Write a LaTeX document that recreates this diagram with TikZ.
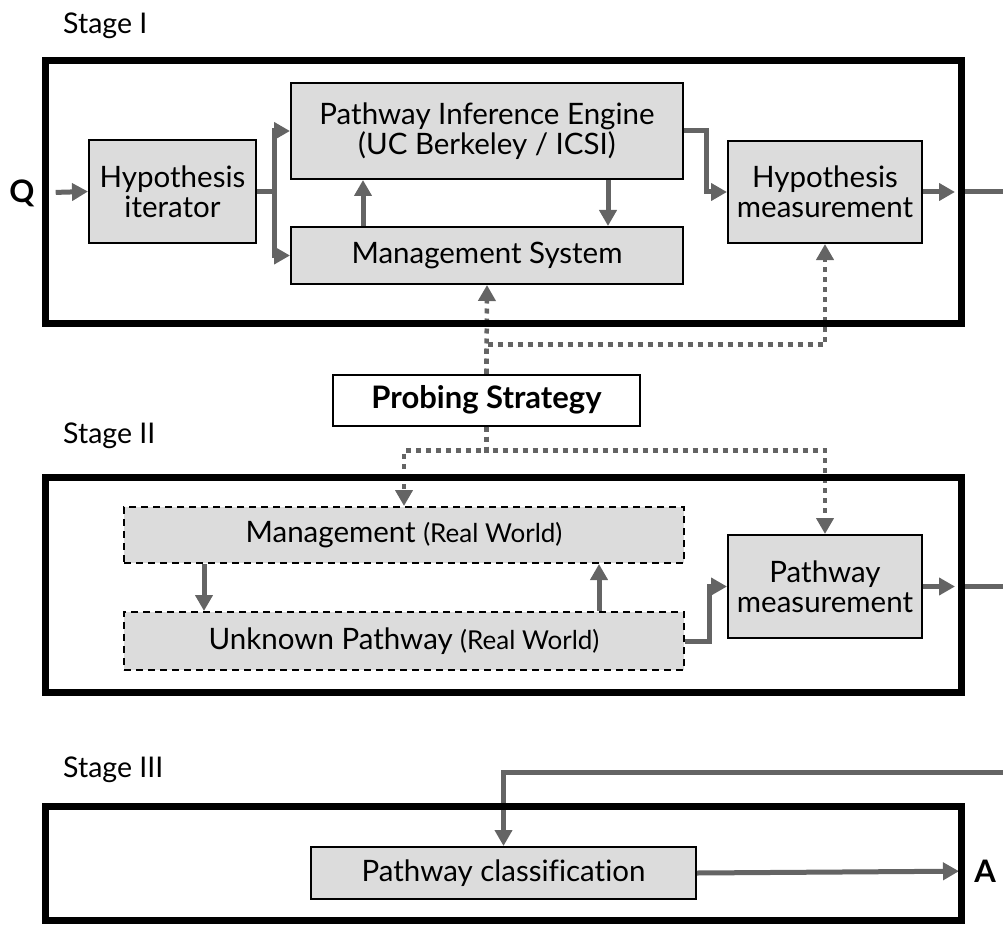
\documentclass[tikz,border=0pt]{standalone}
\usepackage{fontspec}
\setmainfont{Lato}[Ligatures=NoCommon]
\usetikzlibrary{arrows.meta,positioning}
\definecolor{boxgray}{RGB}{220,220,220}
\definecolor{linkgray}{RGB}{100,100,100}
\newcommand\realworld{{\fontsize{26}{28}\selectfont(Real World)}}

\begin{document}
\begin{tikzpicture}[x=1pt,y=-1pt,
  font=\fontsize{29.5}{30}\selectfont,
  block/.style={draw=black,line width=2pt,fill=boxgray,align=center,inner sep=0pt},
  realbox/.style={block,dash pattern=on 7pt off 5pt},
  probebox/.style={block,fill=white,font=\fontsize{31}{32}\selectfont\bfseries},
  stageframe/.style={draw=black,line width=7pt},
  stagelabel/.style={anchor=west,inner sep=0pt,font=\fontsize{28.5}{30}\selectfont},
  endlabel/.style={inner sep=0pt,font=\fontsize{31}{32}\selectfont\bfseries},
  flow/.style={-{Triangle[length=16pt,width=17pt]},draw=linkgray,line width=5pt},
  link/.style={draw=linkgray,line width=5pt},
  probe/.style={-{Triangle[length=16pt,width=17pt]},draw=linkgray,line width=4.5pt,dash pattern=on 5pt off 5pt}
]
\useasboundingbox (0,0) rectangle (1003,925);

% stage labels
\node[stagelabel] (lab1) at (63,26) {Stage I};
\node[stagelabel] (lab2) at (63,436) {Stage II};
\node[stagelabel] (lab3) at (63,770) {Stage III};

% stage I
\node[block,minimum width=167pt,minimum height=103pt] (iter) at (172.5,191.5) {Hypothesis\\iterator};
\node[block,minimum width=392pt,minimum height=96pt] (pie) at (487,131) {Pathway Inference Engine\\(UC Berkeley / ICSI)};
\node[block,minimum width=392pt,minimum height=57pt] (ms) at (487,255.5) {Management System};
\node[block,minimum width=194pt,minimum height=102pt] (hm) at (825,192) {Hypothesis\\measurement};
\node[endlabel] (q) at (22,193) {Q};

\node[probebox,minimum width=307pt,minimum height=51pt] (ps) at (486.5,400) {Probing Strategy};

% stage II
\node[realbox,minimum width=560pt,minimum height=56pt] (mrw) at (404,535) {Management \realworld};
\node[realbox,minimum width=560pt,minimum height=58pt] (upw) at (404,641) {Unknown Pathway \realworld};
\node[block,minimum width=194pt,minimum height=103pt] (pm) at (825,586.5) {Pathway\\measurement};

% stage III
\node[block,minimum width=385pt,minimum height=52pt] (pc) at (503.5,873) {Pathway classification};
\node[endlabel] (a) at (985,871) {A};

\coordinate (s1e) at (961,192);
\coordinate (s2e) at (961,586.5);
\coordinate (out1) at (1003,192);
\coordinate (out2) at (1003,586.5);
\coordinate (in3) at (1003,772);

% solid flows
\draw[flow,shorten <=21pt] (q.east) -- (iter.west);
\draw[flow] (iter.east) -- ++(17,0) |- (pie.west);
\draw[flow] (iter.east) -- ++(17,0) |- (ms.west);
\draw[flow] ([xshift=-124pt]ms.north) -- ([xshift=-124pt]pie.south);
\draw[flow] ([xshift=121pt]pie.south) -- ([xshift=121pt]ms.north);
\draw[flow] (pie.east) -- ++(22,0) |- (hm.west);
\draw[flow,shorten >=6pt] (hm.east) -- (s1e);
\draw[link] (s1e) -- (out1);

\draw[flow] ([xshift=-200pt]mrw.south) -- ([xshift=-200pt]upw.north);
\draw[flow] ([xshift=195pt]upw.north) -- ([xshift=195pt]mrw.south);
\draw[flow] (upw.east) -- ++(24,0) |- (pm.west);
\draw[flow,shorten >=6pt] (pm.east) -- (s2e);
\draw[link] (s2e) -- (out2);

\draw[flow] (in3) -| (pc.north);
\draw[flow,shorten >=26pt] (pc.east) -- (a.center);

% probing links
\draw[probe] (ps.north) -- (ms.south);
\draw[probe] (ps.north) -- ++(0,-29) -| (hm.south);
\draw[probe] (ps.south) -- ++(0,24) -| (mrw.north);
\draw[probe] (ps.south) -- ++(0,24) -| (pm.north);

% stage frames
\draw[stageframe] (45,61) rectangle (961,323);
\draw[stageframe] (45,477) rectangle (961,692);
\draw[stageframe] (45,806) rectangle (961,920);
\end{tikzpicture}
\end{document}
